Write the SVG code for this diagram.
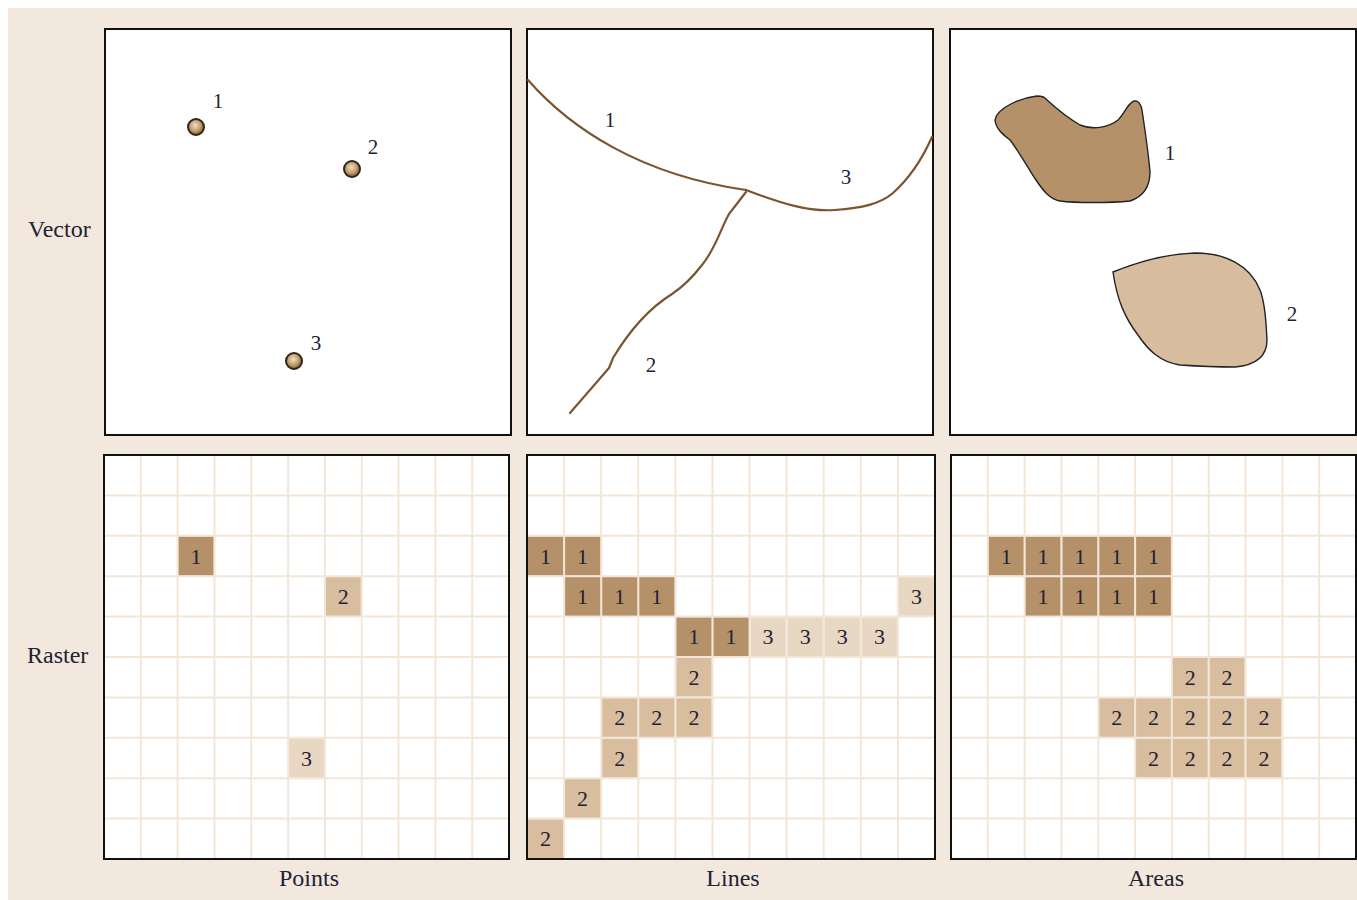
<svg xmlns="http://www.w3.org/2000/svg" width="1357" height="900" viewBox="0 0 1357 900">
<defs>
<radialGradient id="pt" cx="0.45" cy="0.4" r="0.6">
<stop offset="0" stop-color="#f0e0c8"/>
<stop offset="0.6" stop-color="#c09a6a"/>
<stop offset="1" stop-color="#7a5a30"/>
</radialGradient>
<style>
.frame{fill:#fff;stroke:#111;stroke-width:2}
.border{fill:none;stroke:#111;stroke-width:2}
.grid{fill:none;stroke:#f3e6d8;stroke-width:2}
.d{fill:#b5916a}
.m{fill:#d8bd9f}
.l{fill:#e7d7c3}
.n{font-family:"Liberation Serif","Times New Roman",serif;font-size:22px;fill:#222233;text-anchor:middle}
.lab{font-family:"Liberation Serif","Times New Roman",serif;font-size:24px;fill:#222233}
.cap{font-family:"Liberation Serif","Times New Roman",serif;font-size:24px;fill:#222233;text-anchor:middle}
.vl{font-family:"Liberation Serif","Times New Roman",serif;font-size:21px;fill:#222233;text-anchor:middle}
.pt{fill:url(#pt);stroke:#2e2618;stroke-width:2}
.ln{fill:none;stroke:#7a5530;stroke-width:2.2;stroke-linejoin:round;stroke-linecap:round}
.a1{fill:#b5916a;stroke:#222;stroke-width:1.4}
.a2{fill:#d7bc9e;stroke:#222;stroke-width:1.4}
</style>
</defs>
<rect x="8" y="8" width="1349" height="892" fill="#f2e8de"/>

<g id="row-labels">
<text class="lab" x="28" y="237">Vector</text>
<text class="lab" x="27" y="663">Raster</text>
<text class="cap" x="309" y="886">Points</text>
<text class="cap" x="733" y="886">Lines</text>
<text class="cap" x="1156" y="886">Areas</text>
</g>

<g id="vector-points">
<rect class="frame" x="105" y="29" width="406" height="406"/>
<circle class="pt" cx="196" cy="127" r="8"/>
<circle class="pt" cx="352" cy="169" r="8"/>
<circle class="pt" cx="294" cy="361" r="8"/>
<text class="vl" x="218" y="108">1</text>
<text class="vl" x="373" y="154">2</text>
<text class="vl" x="316" y="350">3</text>
</g>

<g id="vector-lines">
<rect class="frame" x="527" y="29" width="406" height="406"/>
<path class="ln" d="M528,80 C570,128 640,175 746,190"/>
<path class="ln" d="M746,190 C780,203 808,212 835,210 C862,208 880,204 893,193 C912,176 924,155 932,137"/>
<path class="ln" d="M746,192 L729,214 C720,230 716,248 702,265 C692,278 684,286 672,294 C648,309 628,333 613,358 L609,368 L570,413"/>
<text class="vl" x="610" y="127">1</text>
<text class="vl" x="846" y="184">3</text>
<text class="vl" x="651" y="372">2</text>
</g>

<g id="vector-areas">
<rect class="frame" x="950" y="29" width="406" height="406"/>
<path class="a1" d="M995,120 C997,108 1020,98 1037,96 C1042,96 1045,97 1047,100 C1058,110 1068,118 1080,125 C1092,130 1108,128 1118,120 C1124,114 1128,103 1134,101 C1138,100 1141,104 1142,110 C1145,130 1149,160 1150,172 C1150,185 1145,196 1130,201 C1110,203 1075,203 1060,201 C1050,199 1044,192 1036,180 C1028,168 1018,150 1010,140 C1005,136 996,130 995,120 Z"/>
<path class="a2" d="M1113,272 C1135,263 1165,254 1195,253 C1225,253 1250,265 1260,290 C1266,305 1266,325 1267,340 C1267,355 1258,365 1235,367 C1215,367 1195,366 1180,365 C1160,362 1148,350 1138,335 C1125,318 1117,300 1113,272 Z"/>
<text class="vl" x="1170" y="160">1</text>
<text class="vl" x="1292" y="321">2</text>
</g>

<g id="raster-points">
<rect x="104" y="455" width="405" height="404" fill="#fff"/>
<path class="grid" d="M140.8,455V859M177.6,455V859M214.5,455V859M251.3,455V859M288.1,455V859M324.9,455V859M361.7,455V859M398.5,455V859M435.4,455V859M472.2,455V859M104,495.4H509M104,535.8H509M104,576.2H509M104,616.6H509M104,657H509M104,697.4H509M104,737.8H509M104,778.2H509M104,818.6H509"/>
<rect class="d" x="178.6" y="536.8" width="34.8" height="38.4"/>
<rect class="m" x="325.9" y="577.2" width="34.8" height="38.4"/>
<rect class="l" x="289.1" y="738.8" width="34.8" height="38.4"/>
<text class="n" x="196" y="563.5">1</text>
<text class="n" x="343.3" y="603.9">2</text>
<text class="n" x="306.5" y="765.5">3</text>
<rect class="border" x="104" y="455" width="405" height="404"/>
</g>

<g id="raster-lines">
<rect x="527" y="455" width="408" height="404" fill="#fff"/>
<path class="grid" d="M564.1,455V859M601.2,455V859M638.3,455V859M675.4,455V859M712.5,455V859M749.5,455V859M786.6,455V859M823.7,455V859M860.8,455V859M897.9,455V859M527,495.4H935M527,535.8H935M527,576.2H935M527,616.6H935M527,657H935M527,697.4H935M527,737.8H935M527,778.2H935M527,818.6H935"/>
<g>
<rect class="d" x="528" y="536.8" width="35.1" height="38.4"/>
<rect class="d" x="565.1" y="536.8" width="35.1" height="38.4"/>
<rect class="d" x="565.1" y="577.2" width="35.1" height="38.4"/>
<rect class="d" x="602.2" y="577.2" width="35.1" height="38.4"/>
<rect class="d" x="639.3" y="577.2" width="35.1" height="38.4"/>
<rect class="l" x="898.9" y="577.2" width="35.1" height="38.4"/>
<rect class="d" x="676.4" y="617.6" width="35.1" height="38.4"/>
<rect class="d" x="713.5" y="617.6" width="35.1" height="38.4"/>
<rect class="l" x="750.5" y="617.6" width="35.1" height="38.4"/>
<rect class="l" x="787.6" y="617.6" width="35.1" height="38.4"/>
<rect class="l" x="824.7" y="617.6" width="35.1" height="38.4"/>
<rect class="l" x="861.8" y="617.6" width="35.1" height="38.4"/>
<rect class="m" x="676.4" y="658" width="35.1" height="38.4"/>
<rect class="m" x="602.2" y="698.4" width="35.1" height="38.4"/>
<rect class="m" x="639.3" y="698.4" width="35.1" height="38.4"/>
<rect class="m" x="676.4" y="698.4" width="35.1" height="38.4"/>
<rect class="m" x="602.2" y="738.8" width="35.1" height="38.4"/>
<rect class="m" x="565.1" y="779.2" width="35.1" height="38.4"/>
<rect class="m" x="528" y="819.6" width="35.1" height="38.4"/>
</g>
<g>
<text class="n" x="545.5" y="563.5">1</text>
<text class="n" x="582.6" y="563.5">1</text>
<text class="n" x="582.6" y="603.9">1</text>
<text class="n" x="619.7" y="603.9">1</text>
<text class="n" x="656.8" y="603.9">1</text>
<text class="n" x="916.5" y="603.9">3</text>
<text class="n" x="694" y="644.3">1</text>
<text class="n" x="731" y="644.3">1</text>
<text class="n" x="768.1" y="644.3">3</text>
<text class="n" x="805.2" y="644.3">3</text>
<text class="n" x="842.3" y="644.3">3</text>
<text class="n" x="879.4" y="644.3">3</text>
<text class="n" x="694" y="684.7">2</text>
<text class="n" x="619.7" y="725.1">2</text>
<text class="n" x="656.8" y="725.1">2</text>
<text class="n" x="694" y="725.1">2</text>
<text class="n" x="619.7" y="765.5">2</text>
<text class="n" x="582.6" y="805.9">2</text>
<text class="n" x="545.5" y="846.3">2</text>
</g>
<rect class="border" x="527" y="455" width="408" height="404"/>
</g>

<g id="raster-areas">
<rect x="951" y="455" width="405" height="404" fill="#fff"/>
<path class="grid" d="M987.8,455V859M1024.6,455V859M1061.5,455V859M1098.3,455V859M1135.1,455V859M1171.9,455V859M1208.7,455V859M1245.5,455V859M1282.4,455V859M1319.2,455V859M951,495.4H1356M951,535.8H1356M951,576.2H1356M951,616.6H1356M951,657H1356M951,697.4H1356M951,737.8H1356M951,778.2H1356M951,818.6H1356"/>
<g>
<rect class="d" x="988.8" y="536.8" width="34.8" height="38.4"/>
<rect class="d" x="1025.6" y="536.8" width="34.8" height="38.4"/>
<rect class="d" x="1062.5" y="536.8" width="34.8" height="38.4"/>
<rect class="d" x="1099.3" y="536.8" width="34.8" height="38.4"/>
<rect class="d" x="1136.1" y="536.8" width="34.8" height="38.4"/>
<rect class="d" x="1025.6" y="577.2" width="34.8" height="38.4"/>
<rect class="d" x="1062.5" y="577.2" width="34.8" height="38.4"/>
<rect class="d" x="1099.3" y="577.2" width="34.8" height="38.4"/>
<rect class="d" x="1136.1" y="577.2" width="34.8" height="38.4"/>
<rect class="m" x="1172.9" y="658" width="34.8" height="38.4"/>
<rect class="m" x="1209.7" y="658" width="34.8" height="38.4"/>
<rect class="m" x="1099.3" y="698.4" width="34.8" height="38.4"/>
<rect class="m" x="1136.1" y="698.4" width="34.8" height="38.4"/>
<rect class="m" x="1172.9" y="698.4" width="34.8" height="38.4"/>
<rect class="m" x="1209.7" y="698.4" width="34.8" height="38.4"/>
<rect class="m" x="1246.5" y="698.4" width="34.8" height="38.4"/>
<rect class="m" x="1136.1" y="738.8" width="34.8" height="38.4"/>
<rect class="m" x="1172.9" y="738.8" width="34.8" height="38.4"/>
<rect class="m" x="1209.7" y="738.8" width="34.8" height="38.4"/>
<rect class="m" x="1246.5" y="738.8" width="34.8" height="38.4"/>
</g>
<g>
<text class="n" x="1006.2" y="563.5">1</text>
<text class="n" x="1043" y="563.5">1</text>
<text class="n" x="1079.9" y="563.5">1</text>
<text class="n" x="1116.7" y="563.5">1</text>
<text class="n" x="1153.5" y="563.5">1</text>
<text class="n" x="1043" y="603.9">1</text>
<text class="n" x="1079.9" y="603.9">1</text>
<text class="n" x="1116.7" y="603.9">1</text>
<text class="n" x="1153.5" y="603.9">1</text>
<text class="n" x="1190.3" y="684.7">2</text>
<text class="n" x="1227.1" y="684.7">2</text>
<text class="n" x="1116.7" y="725.1">2</text>
<text class="n" x="1153.5" y="725.1">2</text>
<text class="n" x="1190.3" y="725.1">2</text>
<text class="n" x="1227.1" y="725.1">2</text>
<text class="n" x="1264" y="725.1">2</text>
<text class="n" x="1153.5" y="765.5">2</text>
<text class="n" x="1190.3" y="765.5">2</text>
<text class="n" x="1227.1" y="765.5">2</text>
<text class="n" x="1264" y="765.5">2</text>
</g>
<rect class="border" x="951" y="455" width="405" height="404"/>
</g>
</svg>
